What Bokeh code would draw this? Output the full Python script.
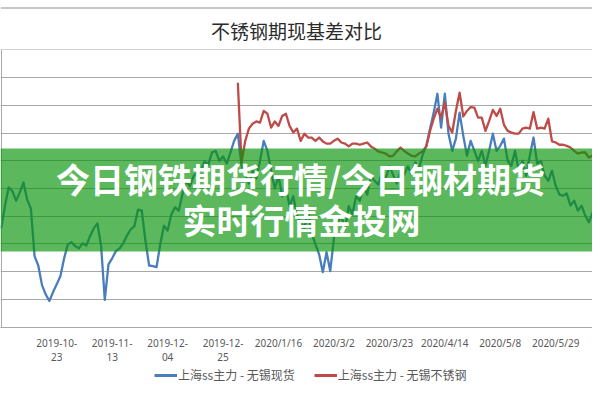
from bokeh.plotting import figure
from bokeh.layouts import column
from bokeh.models import (FixedTicker, Label, BoxAnnotation, Legend,
                          LegendItem, Range1d, Span)
from bokeh.embed import file_html
from bokeh.resources import INLINE

# ---------------- data ----------------
title_text = "不锈钢期现基差对比"
banner_line1 = "今日钢铁期货行情/今日钢材期货"
banner_line2 = "实时行情金投网"
series_names = ["上海ss主力 - 无锡现货", "上海ss主力 - 无锡不锈钢"]

# category index of each labelled date (every 15th trading day); the first
# one (2019-09-25) sits on the cropped left edge of the picture
tick_positions = [15, 30, 45, 60, 75, 90, 105, 120, 135, 150]
tick_labels = ["2019-10-\n23", "2019-11-\n13", "2019-12-\n04",
               "2019-12-\n25", "2020/1/16", "2020/3/2", "2020/3/23",
               "2020/4/14", "2020/5/8", "2020/5/29"]

grid_values = [-3000, -2500, -2000, -1500, -1000, -500, 0, 500, 1000, 1500, 2000]

# 上海ss主力 - 无锡现货 (blue), category index 0..162
spot_basis = [
    -1220, -810, -480, -550, -720, -570, -390, -700, -860, -1720,
    -1890, -2240, -2410, -2530, -2370, -2230, -2080, -1760, -1510, -1470,
    -1540, -1580, -1490, -1530, -1360, -1220, -1130, -1530, -2510, -1870,
    -1760, -1630, -1580, -1490, -1350, -1240, -1180, -880, -900, -1440,
    -1890, -1900, -1920, -1510, -1170, -1260, -970, -840, -900, -610,
    -370, -460, -280, -210, -180, -10, -70, 150, 180, 0,
    80, -50, 150, 360, 490, -90, -250, -410, -180, -320,
    0, 360, 180, -180, -500, -280, -640, -460, -820, -640,
    -990, -1110, -1220, -900, -1310, -1510, -1690, -2010, -1650, -1990,
    -1400, -1110, -990, -1240, -820, -970, -640, -720, -460, -610,
    -280, -360, -430, -210, -320, -100, -250, -410, -190, -250,
    -100, -250, -30, -140, 110, 270, 580, 870, 1210, 600,
    1210, 490, 180, 400, 870, 450, 90, 360, 180, 0,
    180, -90, 180, 490, 180, 270, 400, 0, -90, 180,
    -180, 0, -270, 90, 420, -50, 0, -270, -360, -180,
    -450, -610, -630, -590, -810, -720, -900, -810, -990, -1110,
    -930, -820, -770,
]

# 上海ss主力 - 无锡不锈钢 (red), starts at category index 64
ss_start = 64
ss_basis = [
    1410, -30, 360, 580, 670, 710,
    690, 900, 850, 600, 710, 630, 810, 850, 630, 510,
    580, 360, 490, 420, 420, 360, 420, 350, 310, 310,
    360, 400, 330, 310, 260, 310, 310, 290, 310, 330,
    260, 220, 170, 150, 130, 80, 90, 170, 240, 180,
    130, 90, 80, 130, 170, 260, 540, 760, 940, 780,
    1050, 630, 510, 900, 1230, 800, 900, 970, 960, 780,
    780, 540, 720, 920, 810, 940, 650, 540, 510, 490,
    490, 580, 600, 580, 880, 580, 600, 580, 760, 350,
    330, 290, 290, 270, 240, 180, 130, 150, 150, 60,
    90, 40, 0,
]

spot_x = list(range(len(spot_basis)))
ss_x = list(range(ss_start, ss_start + len(ss_basis)))

BLUE = "#4a7ebb"
RED = "#be4b48"
GRID = "#a8a8a8"
W = 592

# ---------------- top border strip ----------------
pt = figure(width=W, height=9, output_backend="svg", toolbar_location=None,
            x_range=Range1d(0, 1), y_range=Range1d(0, 9), min_border=0)
pt.axis.visible = False
pt.grid.visible = False
pt.outline_line_color = None
pt.add_layout(Span(location=4.5, dimension="width", line_color="#b4b4b4",
                   line_width=1.5))

# ---------------- main chart ----------------
p = figure(width=W, height=358, output_backend="svg", toolbar_location=None,
           x_range=Range1d(-0.2165, 159.96), y_range=Range1d(-3009, 2009),
           min_border_left=0, min_border_right=0,
           min_border_top=40, min_border_bottom=40)
p.outline_line_color = None
p.background_fill_color = "white"
p.border_fill_color = "white"

p.title.text = title_text
p.title.align = "center"
p.title.standoff = 11
p.title.text_font = "Noto Sans CJK SC"
p.title.text_font_style = "normal"
p.title.text_font_size = "19px"
p.title.text_color = "#2b2b2b"

p.yaxis.visible = False
p.xgrid.visible = False
p.ygrid.ticker = FixedTicker(ticks=grid_values)
p.ygrid.grid_line_color = GRID
p.ygrid.grid_line_width = 1
# value-axis line at the cropped left edge
p.add_layout(Span(location=1, location_units="screen", dimension="height",
                  line_color=GRID, line_width=1))

xa = p.xaxis[0]
xa.ticker = FixedTicker(ticks=tick_positions)
xa.major_label_overrides = {t: l for t, l in zip(tick_positions, tick_labels)}
xa.axis_line_color = GRID
xa.major_tick_line_color = None
xa.minor_tick_line_color = None
xa.major_tick_out = 0
xa.major_tick_in = 0
xa.major_label_standoff = 8
xa.major_label_text_font = "Noto Sans"
xa.major_label_text_font_size = "10px"
xa.major_label_text_color = "#595959"
xa.major_label_text_line_height = 1.03

blue = p.line(x=spot_x, y=spot_basis, line_color=BLUE, line_width=2.3,
              line_join="round")
red = p.line(x=ss_x, y=ss_basis, line_color=RED, line_width=2.3,
             line_join="round")

# green banner overlay
p.add_layout(BoxAnnotation(left=0, right=W, top=179, bottom=76,
                           left_units="screen", right_units="screen",
                           top_units="screen", bottom_units="screen",
                           fill_color="#089308", fill_alpha=0.66,
                           line_alpha=0, level="overlay"))
p.add_layout(Label(x=300, y=149, x_units="screen", y_units="screen",
                   text=banner_line1, text_align="center", text_baseline="middle",
                   text_font="Noto Sans CJK SC", text_font_style="bold",
                   text_font_size="34px", text_color="white", level="overlay"))
p.add_layout(Label(x=301, y=108, x_units="screen", y_units="screen",
                   text=banner_line2, text_align="center", text_baseline="middle",
                   text_font="Noto Sans CJK SC", text_font_style="bold",
                   text_font_size="34px", text_color="white", level="overlay"))

# ---------------- legend strip ----------------
pl = figure(width=W, height=25, output_backend="svg", toolbar_location=None,
            x_range=Range1d(0, 1), y_range=Range1d(0, 1), min_border=0)
pl.axis.visible = False
pl.grid.visible = False
pl.outline_line_color = None
nan = float("nan")
lb = pl.line(x=[nan], y=[nan], line_color=BLUE, line_width=3)
lr = pl.line(x=[nan], y=[nan], line_color=RED, line_width=3)
legend = Legend(items=[LegendItem(label=series_names[0], renderers=[lb]),
                       LegendItem(label=series_names[1], renderers=[lr])],
                orientation="horizontal", location=(154, 9),
                glyph_width=23, glyph_height=12, label_height=16,
                label_standoff=1, spacing=19, padding=0, margin=0,
                border_line_alpha=0, background_fill_alpha=0,
                label_text_font="Noto Sans CJK SC", label_text_font_size="12px",
                label_text_color="#595959")
pl.add_layout(legend)

layout = column(pt, p, pl, spacing=0)
open("out.html", "w").write(file_html(layout, INLINE))
